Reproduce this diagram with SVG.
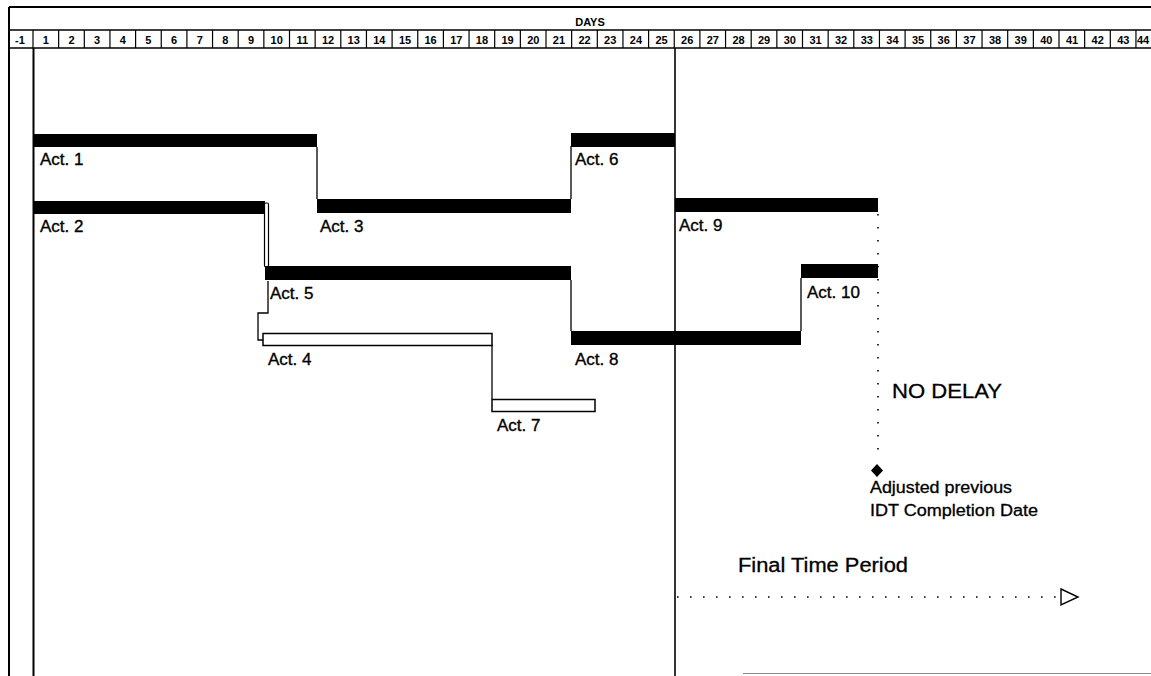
<svg xmlns="http://www.w3.org/2000/svg" width="1151" height="676" viewBox="0 0 1151 676">
<style>
  .bg{fill:#fff}
  .bar{fill:#000}
  .hbar{fill:#fff;stroke:#000;stroke-width:1.5}
  .lbl{font-family:"Liberation Sans",Arial,sans-serif;font-size:17px;fill:#000;stroke:#000;stroke-width:0.35}
  .hdr{font-family:"Liberation Sans",Arial,sans-serif;font-size:11px;font-weight:bold;fill:#000;text-anchor:middle}
  .ln{stroke:#000;stroke-width:1.3;fill:none}
  .grid{stroke:#000;stroke-width:2;fill:none}
  .dot{stroke:#000;stroke-width:1.6;fill:none;stroke-dasharray:1.6 11.4}
  .note{font-family:"Liberation Sans",Arial,sans-serif;fill:#000;stroke:#000;stroke-width:0.3}
</style>
<defs>
  <marker id="openTri" markerUnits="userSpaceOnUse" markerWidth="22" markerHeight="20" refX="2" refY="9" orient="auto">
    <polygon points="2,1 19,9 2,17" fill="#fff" stroke="#000" stroke-width="1.4"/>
  </marker>
</defs>
<rect class="bg" x="0" y="0" width="1151" height="676"/>

<g id="frame">
  <path class="grid" d="M9,7 H1151 M9,7 V676"/>
  <path d="M10,30 H1151 M10,48 H1151" stroke="#000" stroke-width="1.6"/>
  <path stroke="#000" stroke-width="1.2" d="M33,30V48 M58.65,30V48 M84.3,30V48 M109.95,30V48 M135.6,30V48 M161.25,30V48 M186.9,30V48 M212.55,30V48 M238.2,30V48 M263.85,30V48 M289.5,30V48 M315.15,30V48 M340.8,30V48 M366.45,30V48 M392.1,30V48 M417.75,30V48 M443.4,30V48 M469.05,30V48 M494.7,30V48 M520.35,30V48 M546,30V48 M571.65,30V48 M597.3,30V48 M622.95,30V48 M648.6,30V48 M674.25,30V48 M699.9,30V48 M725.55,30V48 M751.2,30V48 M776.85,30V48 M802.5,30V48 M828.15,30V48 M853.8,30V48 M879.45,30V48 M905.1,30V48 M930.75,30V48 M956.4,30V48 M982.05,30V48 M1007.7,30V48 M1033.35,30V48 M1059,30V48 M1084.65,30V48 M1110.3,30V48 M1135.95,30V48"/>
  <text class="hdr" x="590" y="26">DAYS</text>
  <g class="hdr">
    <text x="20" y="44">-1</text>
    <text x="45.8" y="44">1</text><text x="71.5" y="44">2</text><text x="97.1" y="44">3</text><text x="122.8" y="44">4</text><text x="148.4" y="44">5</text><text x="174.1" y="44">6</text><text x="199.7" y="44">7</text><text x="225.4" y="44">8</text><text x="251.1" y="44">9</text><text x="276.7" y="44">10</text>
    <text x="302.4" y="44">11</text><text x="328" y="44">12</text><text x="353.7" y="44">13</text><text x="379.3" y="44">14</text><text x="405" y="44">15</text><text x="430.6" y="44">16</text><text x="456.3" y="44">17</text><text x="481.9" y="44">18</text><text x="507.6" y="44">19</text><text x="533.3" y="44">20</text>
    <text x="558.9" y="44">21</text><text x="584.6" y="44">22</text><text x="610.2" y="44">23</text><text x="635.9" y="44">24</text><text x="661.5" y="44">25</text><text x="687.2" y="44">26</text><text x="712.8" y="44">27</text><text x="738.5" y="44">28</text><text x="764.1" y="44">29</text><text x="789.8" y="44">30</text>
    <text x="815.5" y="44">31</text><text x="841.1" y="44">32</text><text x="866.8" y="44">33</text><text x="892.4" y="44">34</text><text x="918.1" y="44">35</text><text x="943.7" y="44">36</text><text x="969.4" y="44">37</text><text x="995" y="44">38</text><text x="1020.7" y="44">39</text><text x="1046.3" y="44">40</text>
    <text x="1072" y="44">41</text><text x="1097.7" y="44">42</text><text x="1123.3" y="44">43</text><text x="1143" y="44">44</text>
  </g>
  <path d="M33.5,48 V676" stroke="#000" stroke-width="2"/>
  <path d="M675,48 V676" stroke="#000" stroke-width="1.6"/>
  <path d="M743,673.5 H1151" stroke="#888" stroke-width="1.2"/>
</g>

<g id="connectors">
  <path class="ln" d="M317,147 V199"/>
  <rect x="264.5" y="203" width="4" height="64" rx="1.5" fill="#fff" stroke="#000" stroke-width="1.2"/>
  <path class="ln" d="M571,146 V199"/>
  <path class="ln" d="M268,281 V313 H258 V340 H263"/>
  <path class="ln" d="M492,345 V399"/>
  <path class="ln" d="M571,280 V331"/>
  <path class="ln" d="M801,278 V331"/>
  <path class="dot" d="M878,214 V458"/>
  <path class="dot" d="M677,597 H1061" marker-end="url(#openTri)"/>
</g>

<g id="act1"><rect class="bar" x="33" y="134" width="284" height="13"/><text class="lbl" x="40" y="165">Act. 1</text></g>
<g id="act2"><rect class="bar" x="33" y="201" width="232" height="13"/><text class="lbl" x="40" y="232">Act. 2</text></g>
<g id="act3"><rect class="bar" x="317" y="199" width="254" height="14"/><text class="lbl" x="320" y="232">Act. 3</text></g>
<g id="act4"><rect class="hbar" x="263" y="333.5" width="229" height="12"/><text class="lbl" x="268" y="365">Act. 4</text></g>
<g id="act5"><rect class="bar" x="265" y="266" width="306" height="14"/><text class="lbl" x="270" y="299">Act. 5</text></g>
<g id="act6"><rect class="bar" x="571" y="133" width="104" height="14"/><text class="lbl" x="575" y="165">Act. 6</text></g>
<g id="act7"><rect class="hbar" x="492" y="399.5" width="103" height="12"/><text class="lbl" x="497" y="431">Act. 7</text></g>
<g id="act8"><rect class="bar" x="571" y="331" width="230" height="14"/><text class="lbl" x="575" y="365">Act. 8</text></g>
<g id="act9"><rect class="bar" x="675" y="198" width="203" height="14"/><text class="lbl" x="679" y="231">Act. 9</text></g>
<g id="act10"><rect class="bar" x="801" y="264" width="77" height="14"/><text class="lbl" x="807" y="298">Act. 10</text></g>

<g id="no-delay"><text class="note" x="892" y="398" font-size="20" textLength="110" lengthAdjust="spacingAndGlyphs">NO DELAY</text></g>
<g id="milestone">
  <polygon points="877,464 883,470.5 877,477 871,470.5" fill="#000"/>
  <text class="note" x="870" y="493" font-size="16" textLength="142" lengthAdjust="spacingAndGlyphs">Adjusted previous</text>
  <text class="note" x="870" y="516" font-size="16" textLength="168" lengthAdjust="spacingAndGlyphs">IDT Completion Date</text>
</g>
<g id="final-period"><text class="note" x="738" y="572" font-size="20" textLength="170" lengthAdjust="spacingAndGlyphs">Final Time Period</text></g>
</svg>
